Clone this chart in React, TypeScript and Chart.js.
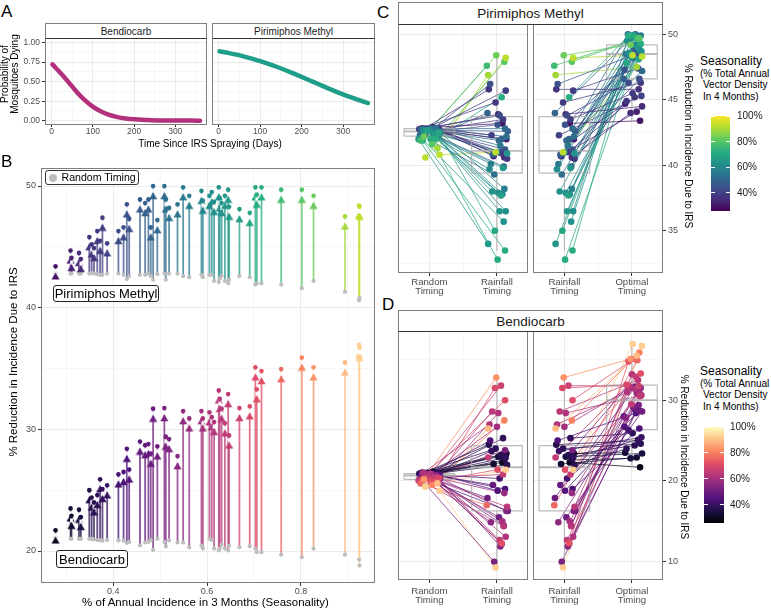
import React, { useEffect, useRef } from 'react';
import { Chart, registerables } from 'chart.js';

Chart.register(...registerables);

const FONT = "'Liberation Sans', Arial, Helvetica, sans-serif";

// ---------------- Panel A : probability of mosquitoes dying ----------------
const aDays = [2, 20, 40, 60, 80, 100, 120, 140, 160, 180, 200, 220, 240, 260, 280, 300, 320, 340, 360];
const aBendiocarb = [0.72, 0.62, 0.5, 0.375, 0.266, 0.18, 0.117, 0.074, 0.046, 0.029, 0.018, 0.011, 0.007, 0.004, 0.003, 0.002, 0.001, 0.001, 0.0];
const aPirimiphos = [0.888, 0.871, 0.848, 0.823, 0.794, 0.763, 0.728, 0.69, 0.649, 0.606, 0.561, 0.515, 0.469, 0.424, 0.379, 0.337, 0.297, 0.26, 0.226];
const aFacets = ['Bendiocarb', 'Pirimiphos Methyl'];
const aXTicks = [0, 100, 200, 300];
const aXMinor = [50, 150, 250, 350];
const aYTicks = [0, 0.25, 0.5, 0.75, 1];
const aYMinor = [0.125, 0.375, 0.625, 0.875];

// ---------------- Panels B-D : per-location reduction in incidence ----------------
const seasonality = [0.277, 0.309, 0.311, 0.327, 0.331, 0.349, 0.354, 0.359, 0.366, 0.372, 0.377, 0.387, 0.411, 0.422, 0.429, 0.434, 0.457, 0.468, 0.475, 0.480, 0.485, 0.494, 0.509, 0.512, 0.519, 0.537, 0.549, 0.562, 0.588, 0.591, 0.605, 0.610, 0.615, 0.625, 0.627, 0.631, 0.638, 0.645, 0.647, 0.669, 0.691, 0.703, 0.706, 0.716, 0.758, 0.802, 0.827, 0.894, 0.924, 0.925];

const pmRandom = [42.9, 42.8, 42.8, 42.8, 42.8, 42.8, 42.85, 42.8, 42.75, 42.7, 42.7, 42.8, 42.8, 42.7, 42.35, 42.6, 42.7, 42.7, 42.8, 42.6, 42.3, 42.75, 42.8, 42.3, 42.8, 42.8, 42.6, 42.5, 42.7, 42.5, 42.7, 42.7, 42.2, 42.1, 42.4, 42.6, 42.2, 42.0, 42.3, 42.6, 42.5, 41.9, 42.0, 42.0, 41.9, 41.6, 42.2, 41.3, 40.6, 40.8];
const pmRainfall = [43.2, 42.0, 40.7, 43.9, 40.6, 45.8, 41.0, 40.5, 44.8, 43.5, 45.7, 42.3, 43.8, 41.2, 46.2, 43.1, 42.6, 40.8, 42.0, 39.9, 44.0, 41.9, 42.8, 39.3, 42.2, 41.5, 40.1, 38.2, 41.0, 37.8, 39.7, 36.5, 37.9, 35.7, 38.0, 40.9, 36.5, 34.0, 39.8, 37.7, 35.0, 33.5, 32.8, 45.2, 47.6, 47.9, 48.4, 46.9, 48.2, 41.0];
const pmOptimal = [43.4, 44.7, 44.1, 44.5, 44.0, 45.8, 45.2, 44.9, 46.3, 45.5, 47.4, 45.3, 46.3, 46.6, 48.5, 47.3, 48.9, 48.6, 48.9, 46.6, 50.0, 47.2, 50.0, 48.9, 48.2, 48.5, 49.9, 49.2, 49.6, 48.8, 49.2, 49.5, 48.7, 49.9, 49.0, 48.6, 49.2, 49.7, 48.3, 48.1, 47.8, 49.9, 49.3, 49.9, 49.7, 49.7, 49.2, 47.5, 48.4, 48.3];

const bdRandom = [21.15, 21.0, 21.0, 21.0, 21.0, 21.0, 21.0, 20.95, 20.9, 20.9, 20.85, 20.9, 20.87, 20.85, 20.66, 20.75, 20.46, 20.7, 20.75, 20.9, 20.1, 21.0, 20.75, 20.38, 20.87, 20.7, 20.7, 20.3, 20.45, 20.2, 21.0, 20.9, 20.2, 20.05, 20.2, 20.5, 20.2, 20.05, 20.45, 20.3, 20.4, 20.2, 19.9, 19.9, 19.7, 19.5, 20.2, 19.7, 19.3, 18.8];
const bdRainfall = [22.3, 23.4, 22.1, 23.0, 22.6, 24.5, 23.2, 22.0, 24.0, 25.3, 22.9, 23.7, 20.3, 19.0, 25.0, 18.8, 16.3, 19.5, 12.2, 14.5, 17.9, 15.5, 23.8, 10.0, 16.3, 11.9, 14.9, 18.5, 26.7, 15.0, 27.0, 13.1, 28.4, 14.4, 28.6, 16.8, 12.7, 22.9, 20.8, 31.8, 31.5, 30.0, 21.4, 12.3, 17.0, 27.5, 32.8, 26.5, 21.4, 9.3];
const bdOptimal = [21.7, 23.5, 22.9, 23.4, 22.8, 25.0, 24.4, 24.0, 24.6, 25.9, 25.1, 25.4, 26.3, 26.5, 28.4, 26.7, 29.0, 28.7, 28.8, 28.0, 31.7, 28.6, 31.75, 29.4, 29.2, 27.8, 31.5, 30.9, 31.5, 30.9, 31.4, 31.0, 30.6, 33.2, 32.5, 31.7, 30.5, 32.9, 29.5, 31.75, 31.9, 35.1, 33.3, 34.8, 34.95, 35.9, 35.1, 35.5, 36.95, 36.7];

// horizontal jitter of the points in panels C and D (category units)
const jitterRandom = [0.05, -0.12, 0.10, -0.03, 0.14, -0.08, 0.02, 0.11, -0.15, 0.07, -0.01, 0.13, -0.10, 0.04, -0.06, 0.15, -0.13, 0.09, 0.00, -0.04, 0.12, -0.11, 0.06, -0.14, 0.03, 0.10, -0.07, 0.16, -0.02, 0.08, -0.09, 0.01, 0.13, -0.12, 0.05, -0.05, 0.11, -0.16, 0.07, -0.03, 0.14, -0.10, 0.02, 0.09, -0.13, 0.04, -0.08, 0.12, -0.06, 0.15];
const jitterRainfall = [0.08, 0.14, -0.05, 0.02, 0.11, -0.12, 0.06, 0.15, -0.02, 0.09, 0.13, -0.08, 0.04, 0.12, -0.10, 0.01, 0.16, -0.06, 0.07, 0.10, -0.14, 0.03, 0.12, -0.04, 0.14, 0.05, -0.09, 0.11, 0.00, 0.08, -0.11, 0.13, 0.02, 0.10, -0.07, 0.15, 0.04, -0.13, 0.09, 0.06, -0.03, 0.12, 0.01, 0.07, -0.15, 0.11, -0.01, -0.13, 0.13, -0.02];
const jitterOptimal = [0.12, -0.10, 0.07, 0.15, -0.02, 0.10, 0.04, -0.08, 0.13, 0.01, 0.09, 0.14, -0.05, 0.11, 0.06, -0.11, 0.03, 0.12, 0.08, -0.12, 0.05, 0.15, -0.06, 0.10, 0.02, -0.09, 0.13, 0.07, -0.03, 0.11, 0.04, -0.07, 0.14, 0.00, 0.09, -0.04, 0.12, 0.06, -0.01, 0.10, -0.08, 0.03, 0.13, -0.05, 0.08, 0.11, -0.02, 0.07, 0.01, 0.15];

const bXTicks = [0.4, 0.6, 0.8];
const bXMinor = [0.3, 0.5, 0.7, 0.9];
const bYTicks = [20, 30, 40, 50];
const bYMinor = [25, 35, 45];
const cYTicks = [35, 40, 45, 50];
const cYMinor = [32.5, 37.5, 42.5, 47.5];
const dYTicks = [10, 20, 30];
const dYMinor = [15, 25, 35];
const timingRandom = ['Random', 'Timing'];
const timingRainfall = ['Rainfall', 'Timing'];
const timingOptimal = ['Optimal', 'Timing'];
const legendRange = [0.259, 1.0];
const legendTicks = [1.0, 0.8, 0.6, 0.4];
const legendLabels = ['100%', '80%', '60%', '40%'];

// ---------------- colours ----------------
const VIRIDIS = ['#440154', '#472D7B', '#3B528B', '#2C728E', '#21918C', '#28AE80', '#5EC962', '#ADDC30', '#FDE725'];
const MAGMA = ['#000004', '#1C1044', '#4F127B', '#812581', '#B5367A', '#E55064', '#FB8861', '#FEC287', '#FCFDBF'];
const BD_LINE = '#B3307D';
const PM_LINE = '#1F9E89';

function hexToRgb(h: string) {
  return [parseInt(h.slice(1, 3), 16), parseInt(h.slice(3, 5), 16), parseInt(h.slice(5, 7), 16)];
}
function palColor(stops: string[], t: number, a = 1) {
  const tt = Math.max(0, Math.min(1, t)) * (stops.length - 1);
  const i = Math.min(Math.floor(tt), stops.length - 2);
  const f = tt - i;
  const c0 = hexToRgb(stops[i]);
  const c1 = hexToRgb(stops[i + 1]);
  const c = c0.map((v, k) => Math.round(v + (c1[k] - v) * f));
  return `rgba(${c[0]},${c[1]},${c[2]},${a})`;
}
const colourPos = (s: number) => 0.05 + (s - 0.277) * 1.31;

// ---------------- chart helpers ----------------
interface AxisOpts {
  pos: 'left' | 'right' | 'bottom';
  min: number;
  max: number;
  major: number[];
  minor: number[];
  size: number;
  labels?: boolean;
  tickLen?: number;
  pad?: number;
  fontSize?: number;
  lineHeight?: number;
  fmt?: (v: number) => string | string[];
}

function axis(o: AxisOpts): any {
  const horizontal = o.pos === 'bottom';
  const tl = o.tickLen ?? 0;
  return {
    type: 'linear',
    position: o.pos,
    min: o.min,
    max: o.max,
    bounds: 'data',
    afterBuildTicks: (s: any) => {
      s.ticks = o.minor
        .map((v) => ({ value: v, minorTick: true }))
        .concat(o.major.map((v) => ({ value: v, minorTick: false })));
    },
    afterFit: (s: any) => {
      if (horizontal) s.height = o.size;
      else s.width = o.size;
    },
    ticks: {
      display: !!o.labels,
      autoSkip: false,
      maxRotation: 0,
      minRotation: 0,
      padding: o.pad ?? 0,
      color: '#4D4D4D',
      font: { family: FONT, size: o.fontSize ?? 9, lineHeight: o.lineHeight ?? 1.2 },
      callback: (v: number, i: number, ticks: any[]) =>
        ticks[i] && ticks[i].minorTick ? '' : o.fmt ? o.fmt(v) : String(v),
    },
    grid: {
      color: (c: any) => (c.tick && c.tick.minorTick ? '#F3F3F3' : '#EBEBEB'),
      lineWidth: (c: any) => (c.tick && c.tick.minorTick ? 0.7 : 1),
      drawTicks: tl > 0,
      tickLength: tl,
      tickColor: (c: any) => (c.tick && c.tick.minorTick ? 'rgba(0,0,0,0)' : '#333333'),
      tickWidth: 1,
    },
    border: { display: false },
    title: { display: false },
  };
}

const panelBorder = {
  id: 'panelBorder',
  afterDraw(chart: any) {
    const { ctx, chartArea: a } = chart;
    ctx.save();
    ctx.strokeStyle = '#7F7F7F';
    ctx.lineWidth = 1;
    ctx.strokeRect(Math.round(a.left) + 0.5, Math.round(a.top) + 0.5, Math.round(a.right - a.left) - 1, Math.round(a.bottom - a.top) - 1);
    ctx.restore();
  },
};

function baseOptions(scales: any, padding: any): any {
  return {
    responsive: false,
    animation: false,
    devicePixelRatio: 1,
    events: [],
    layout: { padding, autoPadding: false },
    plugins: { legend: { display: false }, tooltip: { enabled: false }, title: { display: false } },
    scales,
  };
}

function panelAConfig(values: number[], color: string, showY: boolean): any {
  return {
    type: 'scatter',
    data: {
      datasets: [
        {
          data: aDays.map((d, i) => ({ x: d, y: values[i] })),
          showLine: true,
          borderColor: color,
          borderWidth: 4.5,
          pointRadius: 0,
          borderCapStyle: 'round',
          borderJoinStyle: 'round',
          cubicInterpolationMode: 'monotone',
        },
      ],
    },
    options: baseOptions(
      {
        x: axis({ pos: 'bottom', min: -16, max: 377, major: aXTicks, minor: aXMinor, size: 15, labels: true, tickLen: 2, pad: 0, fontSize: 8.5, lineHeight: 1 }),
        y: axis({ pos: 'left', min: -0.055, max: 1.058, major: aYTicks, minor: aYMinor, size: showY ? 45 : 0, labels: showY, tickLen: showY ? 3 : 0, pad: 2, fontSize: 8.5, fmt: (v) => v.toFixed(2) }),
      },
      { top: 15, right: 1, left: 0, bottom: 0 }
    ),
    plugins: [panelBorder],
  };
}

function triangleImage(color: string) {
  const c = document.createElement('canvas');
  c.width = 9;
  c.height = 28;
  const g = c.getContext('2d')!;
  g.fillStyle = '#ffffff';
  g.fillRect(3.1, 16.6, 2.8, 4.2);
  g.fillStyle = color;
  g.beginPath();
  g.moveTo(4.5, 20.2);
  g.lineTo(8.6, 27.3);
  g.lineTo(0.4, 27.3);
  g.closePath();
  g.fill();
  return c;
}

function panelBConfig(): any {
  const datasets: any[] = [];
  const pmCols = seasonality.map((s) => palColor(VIRIDIS, colourPos(s)));
  const bdCols = seasonality.map((s) => palColor(MAGMA, colourPos(s)));
  seasonality.forEach((s, i) => {
    datasets.push({
      data: [{ x: s, y: pmRandom[i] }, { x: s, y: pmOptimal[i] }],
      showLine: true, borderColor: palColor(VIRIDIS, colourPos(s), 0.75), borderWidth: 1.8, pointRadius: 0, order: 4,
    });
    datasets.push({
      data: [{ x: s, y: bdRandom[i] }, { x: s, y: bdOptimal[i] }],
      showLine: true, borderColor: palColor(MAGMA, colourPos(s), 0.75), borderWidth: 1.8, pointRadius: 0, order: 4,
    });
  });
  datasets.push({
    data: seasonality.flatMap((s, i) => [{ x: s, y: pmRandom[i] }, { x: s, y: bdRandom[i] }]),
    pointRadius: 2.1, pointBackgroundColor: '#BEBEBE', pointBorderWidth: 0, order: 3,
  });
  datasets.push({
    data: seasonality.map((s, i) => ({ x: s, y: pmOptimal[i] })),
    pointRadius: 6, pointStyle: pmCols.map(triangleImage), order: 2,
  });
  datasets.push({
    data: seasonality.map((s, i) => ({ x: s, y: bdOptimal[i] })),
    pointRadius: 6, pointStyle: bdCols.map(triangleImage), order: 2,
  });
  datasets.push({
    data: seasonality.map((s, i) => ({ x: s, y: pmOptimal[i] })),
    pointRadius: 2.3, pointBackgroundColor: pmCols, pointBorderWidth: 0, order: 1,
  });
  datasets.push({
    data: seasonality.map((s, i) => ({ x: s, y: bdOptimal[i] })),
    pointRadius: 2.3, pointBackgroundColor: bdCols, pointBorderWidth: 0, order: 1,
  });
  return {
    type: 'scatter',
    data: { datasets },
    options: baseOptions(
      {
        x: axis({ pos: 'bottom', min: 0.246, max: 0.958, major: bXTicks, minor: bXMinor, size: 28, labels: true, tickLen: 3, pad: 0, fontSize: 9, fmt: (v) => v.toFixed(1) }),
        y: axis({ pos: 'left', min: 17.37, max: 51.48, major: bYTicks, minor: bYMinor, size: 41, labels: true, tickLen: 3, pad: 2, fontSize: 9 }),
      },
      { top: 8, right: 5, left: 0, bottom: 0 }
    ),
    plugins: [panelBorder],
  };
}

function boxStats(vals: number[]) {
  const s = [...vals].sort((a, b) => a - b);
  const q = (p: number) => {
    const h = (s.length - 1) * p;
    const lo = Math.floor(h);
    const hi = Math.min(lo + 1, s.length - 1);
    return s[lo] + (h - lo) * (s[hi] - s[lo]);
  };
  const q1 = q(0.25);
  const med = q(0.5);
  const q3 = q(0.75);
  const iqr = q3 - q1;
  const lo = s.find((v) => v >= q1 - 1.5 * iqr)!;
  const hi = [...s].reverse().find((v) => v <= q3 + 1.5 * iqr)!;
  return { q1, med, q3, lo, hi };
}

function boxDatasets(vals: number[], c: number) {
  const b = boxStats(vals);
  const w = 0.375;
  const style = { showLine: true, borderColor: 'rgba(170,170,170,0.8)', borderWidth: 1.2, pointRadius: 0, order: 1 };
  return [
    { ...style, data: [{ x: c - w, y: b.q1 }, { x: c + w, y: b.q1 }, { x: c + w, y: b.q3 }, { x: c - w, y: b.q3 }, { x: c - w, y: b.q1 }] },
    { ...style, borderWidth: 1.8, data: [{ x: c - w, y: b.med }, { x: c + w, y: b.med }] },
    { ...style, data: [{ x: c, y: b.q3 }, { x: c, y: b.hi }] },
    { ...style, data: [{ x: c, y: b.q1 }, { x: c, y: b.lo }] },
  ];
}

interface PairedOpts {
  from: number[];
  to: number[];
  jFrom: number[];
  jTo: number[];
  pal: string[];
  labels: string[][];
  yMin: number;
  yMax: number;
  yMajor: number[];
  yMinor: number[];
  right: boolean;
  padTop: number;
  xSize: number;
  xPad: number;
}

function pairedConfig(p: PairedOpts): any {
  const cols = seasonality.map((s) => palColor(p.pal, colourPos(s)));
  const datasets: any[] = [];
  p.from.forEach((v, i) => {
    datasets.push({
      data: [{ x: 1 + p.jFrom[i], y: v }, { x: 2 + p.jTo[i], y: p.to[i] }],
      showLine: true, borderColor: palColor(p.pal, colourPos(seasonality[i]), 0.75), borderWidth: 1, pointRadius: 0, order: 3,
    });
  });
  datasets.push(...boxDatasets(p.from, 1), ...boxDatasets(p.to, 2));
  datasets.push({
    data: p.from.map((v, i) => ({ x: 1 + p.jFrom[i], y: v })),
    pointRadius: 3.3, pointBackgroundColor: cols, pointBorderWidth: 0, order: 0,
  });
  datasets.push({
    data: p.to.map((v, i) => ({ x: 2 + p.jTo[i], y: v })),
    pointRadius: 3.3, pointBackgroundColor: cols, pointBorderWidth: 0, order: 0,
  });
  return {
    type: 'scatter',
    data: { datasets },
    options: baseOptions(
      {
        x: axis({
          pos: 'bottom', min: 0.535, max: 2.46, major: [1, 2], minor: [1.5], size: p.xSize, labels: true, tickLen: 3, pad: p.xPad,
          fontSize: 9.6, lineHeight: 0.92, fmt: (v) => (v === 1 ? p.labels[0] : p.labels[1]),
        }),
        y: axis({
          pos: p.right ? 'right' : 'left', min: p.yMin, max: p.yMax, major: p.yMajor, minor: p.yMinor,
          size: p.right ? 37 : 0, labels: p.right, tickLen: p.right ? 3 : 0, pad: 2, fontSize: 9,
        }),
      },
      { top: p.padTop, right: p.right ? 0 : 1, left: 0, bottom: 0 }
    ),
    plugins: [panelBorder],
  };
}

// ---------------- HTML pieces ----------------
function Txt(props: { x: number; y: number; size: number; text: string; anchor?: 'left' | 'center'; rotate?: number; color?: string; lh?: number }) {
  const { x, y, size, text, anchor = 'center', rotate = 0, color = '#000', lh } = props;
  const tx = anchor === 'center' ? '-50%' : '0';
  return (
    <div
      style={{
        position: 'absolute', left: x, top: y, fontSize: size, lineHeight: `${lh ?? size}px`, color, whiteSpace: 'pre',
        textAlign: 'center', transform: `translate(${tx},-50%) rotate(${rotate}deg)`, fontFamily: FONT,
      }}
    >
      {text}
    </div>
  );
}

function Strip(props: { x: number; y: number; w: number; h: number; text: string; size: number }) {
  const { x, y, w, h, text, size } = props;
  return (
    <div
      style={{
        position: 'absolute', left: x, top: y, width: w, height: h, boxSizing: 'border-box', border: '1px solid #7F7F7F',
        borderBottom: '1px solid #333', background: '#fff', display: 'flex', alignItems: 'center', justifyContent: 'center',
        fontSize: size, color: '#1A1A1A', fontFamily: FONT,
      }}
    >
      {text}
    </div>
  );
}

function LabelBox(props: { x: number; y: number; w: number; h: number; text: string; size: number }) {
  const { x, y, w, h, text, size } = props;
  return (
    <div
      style={{
        position: 'absolute', left: x, top: y, width: w, height: h, boxSizing: 'border-box', border: '1px solid #222',
        borderRadius: 3, background: '#fff', display: 'flex', alignItems: 'center', justifyContent: 'center',
        fontSize: size, color: '#000', fontFamily: FONT, whiteSpace: 'nowrap',
      }}
    >
      {text}
    </div>
  );
}

function ColourLegend(props: { top: number; barX: number; barY: number; barW: number; barH: number; labelX: number; stops: string[] }) {
  const { top, barX, barY, barW, barH, labelX, stops } = props;
  const grad = `linear-gradient(to top, ${stops.map((c, i) => `${c} ${(i / (stops.length - 1)) * 100}%`).join(', ')})`;
  const yOf = (v: number) => barY + (1 - (v - legendRange[0]) / (legendRange[1] - legendRange[0])) * barH;
  return (
    <>
      <Txt x={700} y={top} size={12} text="Seasonality" anchor="left" />
      <Txt x={700} y={top + 12.5} size={10} text="(% Total Annual" anchor="left" />
      <Txt x={703} y={top + 24} size={10} text="Vector Density" anchor="left" />
      <Txt x={703} y={top + 35.5} size={10} text="In 4 Months)" anchor="left" />
      <div style={{ position: 'absolute', left: barX, top: barY, width: barW, height: barH, background: grad }} />
      {legendTicks.map((v, i) => (
        <React.Fragment key={i}>
          <div style={{ position: 'absolute', left: barX, top: yOf(v) - 0.5, width: barW / 5, height: 1, background: '#fff' }} />
          <div style={{ position: 'absolute', left: barX + barW - barW / 5, top: yOf(v) - 0.5, width: barW / 5, height: 1, background: '#fff' }} />
          <Txt x={labelX} y={yOf(v)} size={10} text={legendLabels[i]} anchor="left" color="#1A1A1A" />
        </React.Fragment>
      ))}
    </>
  );
}

function Cv(props: { r: React.RefObject<HTMLCanvasElement | null>; x: number; y: number; w: number; h: number }) {
  const { r, x, y, w, h } = props;
  return <canvas ref={r as any} width={w} height={h} style={{ position: 'absolute', left: x, top: y, width: w, height: h }} />;
}

export default function App() {
  const aL = useRef<HTMLCanvasElement>(null);
  const aR = useRef<HTMLCanvasElement>(null);
  const bC = useRef<HTMLCanvasElement>(null);
  const cL = useRef<HTMLCanvasElement>(null);
  const cR = useRef<HTMLCanvasElement>(null);
  const dL = useRef<HTMLCanvasElement>(null);
  const dR = useRef<HTMLCanvasElement>(null);

  useEffect(() => {
    document.body.style.margin = '0';
    const charts: Chart[] = [];
    const mk = (r: React.RefObject<HTMLCanvasElement | null>, cfg: any) => {
      if (r.current) charts.push(new Chart(r.current, cfg));
    };
    mk(aL, panelAConfig(aBendiocarb, BD_LINE, true));
    mk(aR, panelAConfig(aPirimiphos, PM_LINE, false));
    mk(bC, panelBConfig());
    const cCommon = { pal: VIRIDIS, yMin: 31.78, yMax: 50.79, yMajor: cYTicks, yMinor: cYMinor, padTop: 24, xSize: 27, xPad: 2.4 };
    mk(cL, pairedConfig({ ...cCommon, from: pmRandom, to: pmRainfall, jFrom: jitterRandom, jTo: jitterRainfall, labels: [timingRandom, timingRainfall], right: false }));
    mk(cR, pairedConfig({ ...cCommon, from: pmRainfall, to: pmOptimal, jFrom: jitterRainfall, jTo: jitterOptimal, labels: [timingRainfall, timingOptimal], right: true }));
    const dCommon = { pal: MAGMA, yMin: 7.75, yMax: 38.56, yMajor: dYTicks, yMinor: dYMinor, padTop: 26, xSize: 31, xPad: 3.7 };
    mk(dL, pairedConfig({ ...dCommon, from: bdRandom, to: bdRainfall, jFrom: jitterRandom, jTo: jitterRainfall, labels: [timingRandom, timingRainfall], right: false }));
    mk(dR, pairedConfig({ ...dCommon, from: bdRainfall, to: bdOptimal, jFrom: jitterRainfall, jTo: jitterOptimal, labels: [timingRainfall, timingOptimal], right: true }));
    return () => charts.forEach((c) => c.destroy());
  }, []);

  return (
    <div style={{ position: 'fixed', left: 0, top: 0, width: 771, height: 611, background: '#fff', overflow: 'hidden', fontFamily: FONT }}>
      <Cv r={aL} x={0} y={23} w={208} h={117} />
      <Cv r={aR} x={212} y={23} w={164} h={117} />
      <Cv r={bC} x={0} y={160} w={380} h={451} />
      <Cv r={cL} x={398} y={0} w={131} h={300} />
      <Cv r={cR} x={533} y={0} w={167} h={300} />
      <Cv r={dL} x={398} y={305} w={131} h={306} />
      <Cv r={dR} x={533} y={305} w={167} h={306} />

      {/* panel letters */}
      <Txt x={1} y={11} size={17} text="A" anchor="left" />
      <Txt x={1} y={161} size={17} text="B" anchor="left" />
      <Txt x={377} y={12} size={17} text="C" anchor="left" />
      <Txt x={382} y={304} size={17} text="D" anchor="left" />

      {/* panel A */}
      <Strip x={45} y={23} w={162} h={16} text={aFacets[0]} size={10} />
      <Strip x={212} y={23} w={163} h={16} text={aFacets[1]} size={10} />
      <Txt x={10} y={74} size={10} lh={10} rotate={-90} text={'Probability of\nMosquitoes Dying'} />
      <Txt x={210} y={144} size={10} text="Time Since IRS Spraying (Days)" />

      {/* panel B */}
      <Txt x={14} y={361.7} size={11.5} rotate={-90} text="% Reduction in Incidence Due to IRS" />
      <Txt x={205.5} y={602.7} size={11.5} text="% of Annual Incidence in 3 Months (Seasonality)" />
      <div style={{ position: 'absolute', left: 45, top: 170, width: 94, height: 15, boxSizing: 'border-box', border: '1px solid #333', borderRadius: 3, background: '#fff' }}>
        <div style={{ position: 'absolute', left: 3, top: 2.5, width: 8, height: 8, borderRadius: 4, background: '#BEBEBE' }} />
        <div style={{ position: 'absolute', left: 15.5, top: 0, lineHeight: '13px', fontSize: 10.6, color: '#000', whiteSpace: 'nowrap' }}>Random Timing</div>
      </div>
      <LabelBox x={53} y={285} w={106} h={17} text="Pirimiphos Methyl" size={13} />
      <LabelBox x={56} y={550} w={72} h={18} text="Bendiocarb" size={13} />

      {/* panel C */}
      <Strip x={398} y={2} w={265} h={23} text="Pirimiphos Methyl" size={13.5} />
      <Txt x={687.5} y={146} size={10} rotate={90} text="% Reduction in Incidence Due to IRS" />
      <ColourLegend top={61} barX={711} barY={116} barW={19} barH={95} labelX={737} stops={VIRIDIS} />

      {/* panel D */}
      <Strip x={398} y={310} w={265} h={22} text="Bendiocarb" size={13.5} />
      <Txt x={684} y={456.7} size={10} rotate={90} text="% Reduction in Incidence Due to IRS" />
      <ColourLegend top={371} barX={704} barY={427} barW={20} barH={96} labelX={730} stops={MAGMA} />
    </div>
  );
}
